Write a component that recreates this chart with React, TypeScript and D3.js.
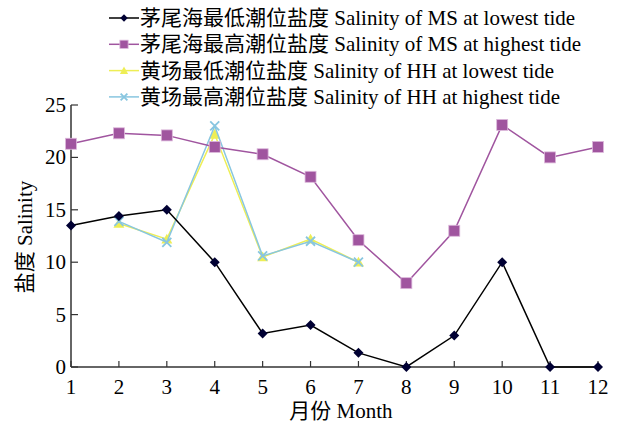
import React from "react";
import * as d3 from "d3";

const months = [1, 2, 3, 4, 5, 6, 7, 8, 9, 10, 11, 12];
const msLowest = [13.5, 14.4, 15.0, 10.0, 3.2, 4.0, 1.35, 0, 3.0, 10.0, 0, 0];
const msHighest = [21.3, 22.3, 22.1, 21.0, 20.3, 18.15, 12.1, 8.0, 13.0, 23.1, 20.0, 21.0];
const hhMonths = [2, 3, 4, 5, 6, 7];
const hhLowest = [13.7, 12.2, 22.2, 10.5, 12.2, 10.0];
const hhHighest = [13.9, 11.9, 23.0, 10.6, 12.0, 10.0];
const yTicks = [0, 5, 10, 15, 20, 25];

const legendLabels = [
  "茅尾海最低潮位盐度 Salinity of MS at lowest tide",
  "茅尾海最高潮位盐度 Salinity of MS at highest tide",
  "黄场最低潮位盐度 Salinity of HH at lowest tide",
  "黄场最高潮位盐度 Salinity of HH at highest tide",
];

const W = 624, H = 423;
const font = "'Liberation Serif', 'Noto Sans CJK SC', serif";

const x = d3.scaleLinear().domain([1, 12]).range([71, 598]);
const y = d3.scaleLinear().domain([0, 25]).range([367, 105]);

type Series = { xs: number[]; ys: number[]; color: string; marker: string; mcolor: string };
const series: Series[] = [
  { xs: months, ys: msLowest, color: "#000000", marker: "diamond", mcolor: "#000033" },
  { xs: months, ys: msHighest, color: "#a0559f", marker: "square", mcolor: "#a0559f" },
  { xs: hhMonths, ys: hhLowest, color: "#eeee55", marker: "triangle", mcolor: "#eeee55" },
  { xs: hhMonths, ys: hhHighest, color: "#88c6e0", marker: "x", mcolor: "#88c6e0" },
];

function Marker({ type, cx, cy, color, scale = 1 }: { type: string; cx: number; cy: number; color: string; scale?: number }) {
  if (type === "diamond") {
    const s = 5 * scale;
    return <path d={`M${cx},${cy - s}L${cx + s},${cy}L${cx},${cy + s}L${cx - s},${cy}Z`} fill={color} />;
  }
  if (type === "square") {
    const s = 5.5 * scale;
    return <rect x={cx - s} y={cy - s} width={2 * s} height={2 * s} fill={color} stroke="#dcb8db" strokeWidth={0.8} />;
  }
  if (type === "triangle") {
    const s = 5.5 * scale;
    return <path d={`M${cx},${cy - s}L${cx + s},${cy + s * 0.8}L${cx - s},${cy + s * 0.8}Z`} fill={color} />;
  }
  const s = 4.5 * scale;
  return (
    <path d={`M${cx - s},${cy - s}L${cx + s},${cy + s}M${cx - s},${cy + s}L${cx + s},${cy - s}`} stroke={color} strokeWidth={1.8} />
  );
}

export default function App() {
  const line = d3.line<[number, number]>().x((d) => x(d[0])).y((d) => y(d[1]));
  const drawOrder = [2, 3, 1, 0];
  return (
    <svg width={W} height={H} style={{ position: "absolute", left: 0, top: 0 }} fontFamily={font}>
      <rect width={W} height={H} fill="#fff" />
      {/* axes */}
      <line x1={71} x2={71} y1={y(25)} y2={y(0)} stroke="#333" strokeWidth={1.5} />
      <line x1={71} x2={598} y1={y(0)} y2={y(0)} stroke="#333" strokeWidth={1.5} />
      {yTicks.map((t) => (
        <g key={t}>
          <line x1={71} x2={78} y1={y(t)} y2={y(t)} stroke="#333" strokeWidth={1.2} />
          <text x={66} y={y(t) + 7} textAnchor="end" fontSize={21}>{t}</text>
        </g>
      ))}
      {months.map((m) => (
        <g key={m}>
          <line x1={x(m)} x2={x(m)} y1={y(0)} y2={y(0) - 6} stroke="#333" strokeWidth={1.2} />
          <text x={x(m)} y={y(0) + 27} textAnchor="middle" fontSize={21}>{m}</text>
        </g>
      ))}
      <text x={341} y={418} textAnchor="middle" fontSize={21}>月份 Month</text>
      <text transform={`translate(32,237) rotate(-90)`} textAnchor="middle" fontSize={21}>盐度 Salinity</text>
      {/* series */}
      {drawOrder.map((i) => {
        const s = series[i];
        const pts = s.xs.map((v, k) => [v, s.ys[k]] as [number, number]);
        return (
          <g key={i}>
            <path d={line(pts) || ""} fill="none" stroke={s.color} strokeWidth={1.5} />
            {pts.map((p, k) => (
              <Marker key={k} type={s.marker} cx={x(p[0])} cy={y(p[1])} color={s.mcolor} />
            ))}
          </g>
        );
      })}
      {/* legend */}
      {legendLabels.map((lab, i) => {
        const ly = 18 + i * 26.3;
        const s = series[i];
        return (
          <g key={i}>
            <line x1={109} x2={139} y1={ly} y2={ly} stroke={s.color} strokeWidth={1.5} />
            <Marker type={s.marker} cx={124} cy={ly} color={s.mcolor} scale={0.75} />
            <text x={140} y={ly + 7} fontSize={21}>{lab}</text>
          </g>
        );
      })}
    </svg>
  );
}
